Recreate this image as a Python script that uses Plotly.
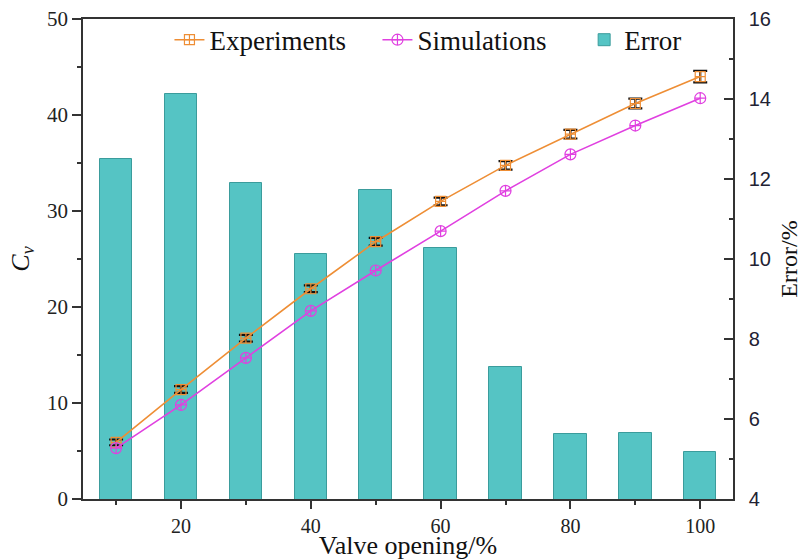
import plotly.graph_objects as go

opening = [10, 20, 30, 40, 50, 60, 70, 80, 90, 100]
cv_experiments = [5.9, 11.4, 16.75, 21.9, 26.8, 31.0, 34.75, 38.0, 41.2, 44.0]
cv_exp_err = [0.3, 0.35, 0.35, 0.35, 0.4, 0.4, 0.45, 0.45, 0.5, 0.6]
cv_simulations = [5.3, 9.8, 14.7, 19.6, 23.8, 27.9, 32.1, 35.9, 38.9, 41.75]
error_pct = [12.51, 14.12, 11.90, 10.13, 11.73, 10.27, 7.29, 5.62, 5.66, 5.18]

serif = "Liberation Serif"
sans = "Liberation Sans"
axis_col = "#333333"

fig = go.Figure()

fig.add_trace(go.Bar(
    x=opening, y=error_pct, name="Error", width=5,
    marker=dict(color="#55C4C4", line=dict(color="#3B9C9C", width=1)),
    yaxis="y", legend="legend2",
))
fig.add_trace(go.Scatter(
    x=opening, y=cv_experiments, name="Experiments", mode="lines+markers",
    line=dict(color="#EE8E35", width=1.6),
    marker=dict(symbol="square-cross-open", size=10, color="#EE8E35", line=dict(width=1.2)),
    error_y=dict(type="data", array=cv_exp_err, color="#111111", thickness=2.2, width=7),
    yaxis="y2", legend="legend", legendrank=1,
))
fig.add_trace(go.Scatter(
    x=opening, y=cv_simulations, name="Simulations", mode="lines+markers",
    line=dict(color="#E040E0", width=1.6),
    marker=dict(symbol="circle-cross-open", size=11, color="#E040E0", line=dict(width=1.2)),
    yaxis="y2", legend="legend", legendrank=2,
))

legend_font = dict(family=serif, size=27, color="#111111")

fig.update_layout(
    width=803, height=560,
    margin=dict(l=83, r=70, t=19, b=61),
    plot_bgcolor="white", paper_bgcolor="white",
    showlegend=True,
    bargap=0,
    legend=dict(
        orientation="h", x=0.133, y=1.007, xanchor="left", yanchor="top",
        font=legend_font, bgcolor="rgba(0,0,0,0)", entrywidth=163, traceorder="normal",
    ),
    legend2=dict(
        orientation="h", x=0.771, y=1.007, xanchor="left", yanchor="top",
        font=legend_font, bgcolor="rgba(0,0,0,0)",
    ),
    xaxis=dict(
        range=[4.9, 105.05], tickvals=[20, 40, 60, 80, 100], automargin=False,
        ticks="outside", ticklen=8, tickwidth=1.5, tickcolor=axis_col,
        minor=dict(tickvals=[10, 30, 50, 70, 90], ticks="outside", ticklen=4, tickwidth=1.5, tickcolor=axis_col),
        showline=True, linecolor=axis_col, linewidth=1.5, mirror=True,
        showgrid=False, zeroline=False,
        tickfont=dict(family=serif, size=20, color="#222222"),
        title=dict(text="Valve opening/%", font=dict(family=serif, size=26, color="#111111"), standoff=6),
    ),
    yaxis=dict(
        side="right", range=[4, 16], tickvals=[4, 6, 8, 10, 12, 14, 16], automargin=False,
        ticks="inside", ticklen=9, tickwidth=1.5, tickcolor=axis_col,
        minor=dict(tickvals=[5, 7, 9, 11, 13, 15], ticks="inside", ticklen=4, tickwidth=1.5, tickcolor=axis_col),
        showline=True, linecolor=axis_col, linewidth=1.5,
        showgrid=False, zeroline=False, ticklabelstandoff=10,
        tickfont=dict(family=sans, size=20, color="#222233"),
        title=dict(text="Error/%", font=dict(family=serif, size=24, color="#111111"), standoff=10),
    ),
    yaxis2=dict(
        side="left", overlaying="y", range=[0, 50], tickvals=[0, 10, 20, 30, 40, 50], automargin=False,
        ticks="outside", ticklen=9, tickwidth=1.5, tickcolor=axis_col,
        minor=dict(tickvals=[5, 15, 25, 35, 45], ticks="outside", ticklen=4, tickwidth=1.5, tickcolor=axis_col),
        showline=True, linecolor=axis_col, linewidth=1.5,
        showgrid=False, zeroline=False,
        tickfont=dict(family=serif, size=21, color="#222222"),
        title=dict(text="<i>C</i><sub><i>v</i></sub>", font=dict(family=serif, size=26, color="#111111"), standoff=10),
    ),
)

fig.write_html("out.html")
